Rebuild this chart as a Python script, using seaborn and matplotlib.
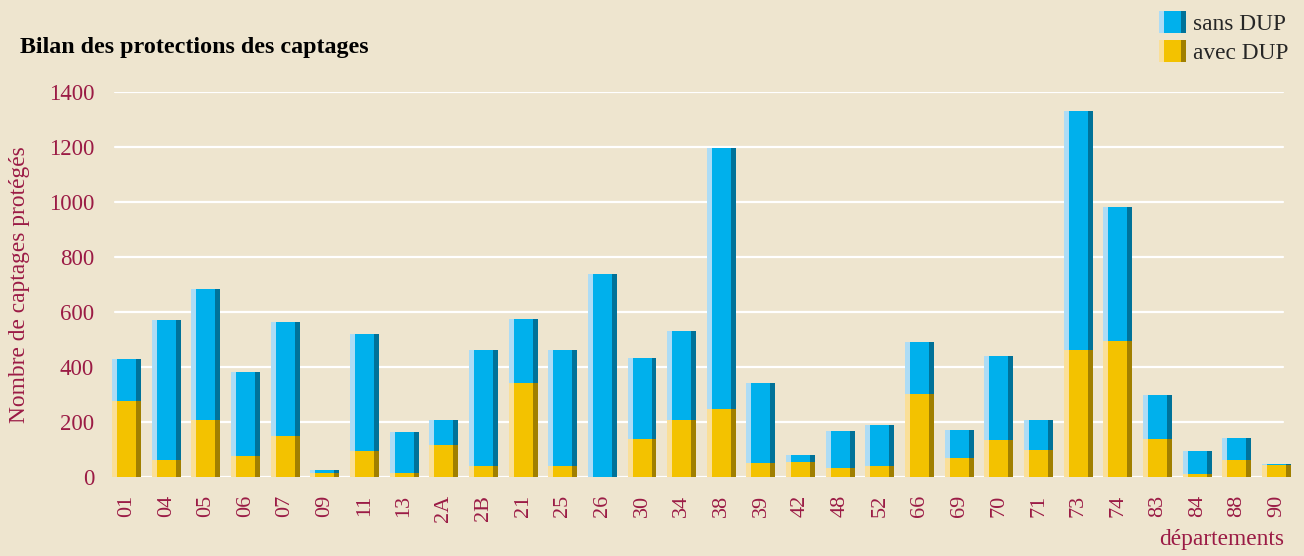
import numpy as np
import pandas as pd
import matplotlib
matplotlib.use("Agg")
import matplotlib.pyplot as plt
import seaborn as sns
from matplotlib.legend_handler import HandlerBase
from matplotlib.patches import Rectangle, Patch

# ---------------- data ----------------
departements = ["01", "04", "05", "06", "07", "09", "11", "13", "2A", "2B",
                "21", "25", "26", "30", "34", "38", "39", "42", "48", "52",
                "66", "69", "70", "71", "73", "74", "83", "84", "88", "90"]
avec_dup = [275, 61, 206, 75, 148, 13, 93, 12, 115, 39,
            341, 39, 0, 137, 206, 246, 50, 53, 32, 39,
            301, 68, 133, 97, 461, 493, 137, 10, 61, 42]
sans_dup = [153, 509, 476, 306, 415, 11, 426, 151, 91, 422,
            232, 422, 737, 295, 324, 949, 291, 26, 134, 149,
            189, 102, 306, 109, 869, 488, 160, 83, 80, 4]
y_ticks = [0, 200, 400, 600, 800, 1000, 1200, 1400]

title = "Bilan des protections des captages"
y_label = "Nombre de captages protégés"
x_label = "départements"
series_names = ["sans DUP", "avec DUP"]

# ---------------- style ----------------
BG = "#EEE5CF"
RED = "#9B1B45"
BLUE = ("#ADDCF5", "#00B0EC", "#007299")
YELLOW = ("#FADF98", "#F3C200", "#A07F00")

sns.set_theme(style="white")
plt.rcParams["font.family"] = ["Liberation Serif", "DejaVu Serif"]

df = pd.DataFrame({"dep": departements, "avec": avec_dup, "sans": sans_dup})
df["total"] = df["avec"] + df["sans"]

fig = plt.figure(figsize=(13.04, 5.56), dpi=100, facecolor=BG)
ax = fig.add_axes([0.0818, 0.1426, 0.9123, 0.6925])
ax.set_facecolor(BG)

W = 0.731   # full bar width (category units)
S = 0.126   # side stripe width

# gridlines
for yv in y_ticks:
    ax.axhline(yv, xmin=0.007, xmax=0.9888, color="white", lw=1.6, zorder=0)

# main bars via seaborn
sns.barplot(data=df, x="dep", y="total", color=BLUE[1], saturation=1,
            width=W, linewidth=0, ax=ax, zorder=2, order=departements)
sns.barplot(data=df, x="dep", y="avec", color=YELLOW[1], saturation=1,
            width=W, linewidth=0, ax=ax, zorder=3, order=departements)

# side stripes (light left, dark right) for a flat 3-D look
pos = np.arange(len(departements))
xl = pos - W / 2 + S / 2
xr = pos + W / 2 - S / 2
ax.bar(xl, df["sans"], bottom=df["avec"], width=S, color=BLUE[0], linewidth=0, zorder=4)
ax.bar(xr, df["sans"], bottom=df["avec"], width=S, color=BLUE[2], linewidth=0, zorder=4)
ax.bar(xl, df["avec"], width=S, color=YELLOW[0], linewidth=0, zorder=4)
ax.bar(xr, df["avec"], width=S, color=YELLOW[2], linewidth=0, zorder=4)

ax.set_xlim(-0.5, len(departements) - 0.5)
ax.set_ylim(0, 1400)
ax.set_yticks(y_ticks)
ax.tick_params(axis="y", length=0, pad=9, labelsize=16.5, labelcolor=RED)
ax.tick_params(axis="x", length=0, pad=13, labelsize=16, labelcolor=RED, labelrotation=90)
for s in ax.spines.values():
    s.set_visible(False)

ax.set_ylabel(y_label, fontsize=16.8, color=RED)
ax.yaxis.set_label_coords(-0.0645, 0.5)
ax.set_xlabel(x_label, fontsize=16.8, color=RED, ha="right", va="top")
ax.xaxis.set_label_coords(0.9897, -0.135)

fig.text(20 / 1304, 1 - 48 / 556, title, fontsize=17.3, fontweight="bold",
         color="black", ha="left", va="center")


class StripedHandler(HandlerBase):
    def __init__(self, colors, fracs):
        super().__init__()
        self.colors = colors
        self.fracs = fracs

    def create_artists(self, legend, orig_handle, xdescent, ydescent,
                       width, height, fontsize, trans):
        arts = []
        x0 = -xdescent
        for c, f in zip(self.colors, self.fracs):
            arts.append(Rectangle((x0, -ydescent), width * f, height,
                                  facecolor=c, linewidth=0, transform=trans))
            x0 += width * f
        return arts


h_sans = Patch(color=BLUE[1])
h_avec = Patch(color=YELLOW[1])
fracs = [0.22, 0.60, 0.18]
fig.legend([h_sans, h_avec], series_names, loc="upper right",
           bbox_to_anchor=(1305 / 1304, 1 + 5 / 556), frameon=False,
           fontsize=16.8, handlelength=1.16, handleheight=1.07,
           handletextpad=0.33, labelspacing=0.2, borderpad=0.2,
           handler_map={h_sans: StripedHandler(BLUE, fracs),
                        h_avec: StripedHandler(YELLOW, fracs)})

fig.savefig("out.png", dpi=100, facecolor=BG)
